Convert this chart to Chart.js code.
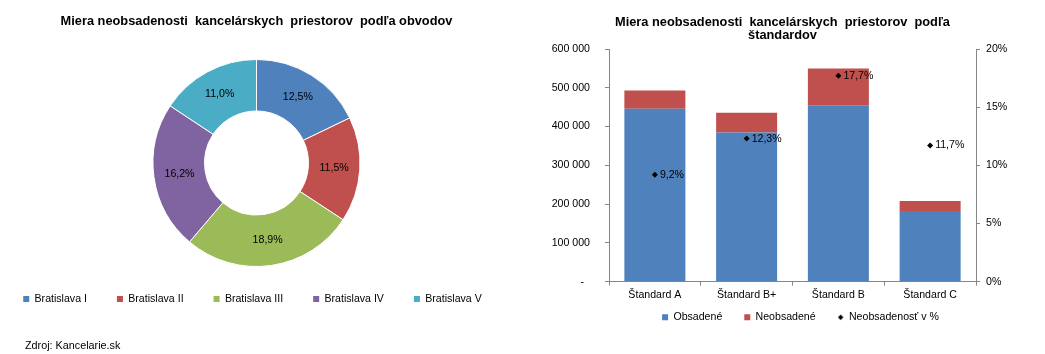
<!DOCTYPE html>
<html><head><meta charset="utf-8">
<script src="https://cdn.jsdelivr.net/npm/chart.js@4/dist/chart.umd.min.js"></script>
<style>
html,body{margin:0;padding:0;background:#fff;width:1045px;height:354px;overflow:hidden;}
#pie{position:absolute;left:-7px;top:0;}
#bar{position:absolute;left:520px;top:0;}
#src{position:absolute;left:25px;top:338px;font:10.8px 'Liberation Sans',Arial,sans-serif;line-height:14px;color:#000;white-space:nowrap;}
</style></head><body>
<canvas id="pie" width="527" height="354"></canvas>
<canvas id="bar" width="525" height="354"></canvas>
<div id="src">Zdroj: Kancelarie.sk</div>
<script>
// ---- data ----
const pieLabels = ['Bratislava I', 'Bratislava II', 'Bratislava III', 'Bratislava IV', 'Bratislava V'];
const pieValues = [12.5, 11.5, 18.9, 16.2, 11.0];
const pieColors = ['#4F81BD', '#C0504D', '#9BBB59', '#8064A2', '#4BACC6'];

const barCategories = ['Štandard A', 'Štandard B+', 'Štandard B', 'Štandard C'];
const occupied = [446000, 384500, 455000, 182500];
const vacant = [47000, 51000, 95000, 25800];
const vacancyRate = [9.2, 12.3, 17.7, 11.7];
const seriesNames = ['Obsadené', 'Neobsadené', 'Neobsadenosť v %'];

const leftTickLabels = ['-  ', '100 000', '200 000', '300 000', '400 000', '500 000', '600 000'];
const rightTickLabels = ['0%', '5%', '10%', '15%', '20%'];

const pieTitle = 'Miera neobsadenosti  kancelárskych  priestorov  podľa obvodov';
const barTitle = ['Miera neobsadenosti  kancelárskych  priestorov  podľa', 'štandardov'];

// ---- setup ----
const FONT = "'Liberation Sans', Arial, sans-serif";
Chart.defaults.font.family = FONT;
Chart.defaults.color = '#000';
Chart.defaults.animation = false;
const AXIS = '#868686';
const fmtPct = v => v.toFixed(1).replace('.', ',') + '%';

const pieLabelPlugin = {
  id: 'pieLabels',
  afterDatasetsDraw(chart) {
    const ctx = chart.ctx;
    const meta = chart.getDatasetMeta(0);
    ctx.save();
    ctx.font = '10.6px ' + FONT;
    ctx.fillStyle = '#000';
    ctx.textAlign = 'center';
    ctx.textBaseline = 'middle';
    meta.data.forEach((arc, i) => {
      const p = arc.getProps(['x', 'y', 'startAngle', 'endAngle', 'innerRadius', 'outerRadius'], true);
      const a = (p.startAngle + p.endAngle) / 2;
      const r = (p.innerRadius + p.outerRadius) / 2;
      ctx.fillText(fmtPct(chart.data.datasets[0].data[i]), p.x + Math.cos(a) * r, p.y + Math.sin(a) * r);
    });
    ctx.restore();
  }
};

const pointLabelPlugin = {
  id: 'ptLabels',
  afterDatasetsDraw(chart) {
    const ctx = chart.ctx;
    const meta = chart.getDatasetMeta(2);
    ctx.save();
    ctx.font = '10.6px ' + FONT;
    ctx.fillStyle = '#000';
    ctx.textAlign = 'left';
    ctx.textBaseline = 'middle';
    meta.data.forEach((pt, i) => {
      ctx.fillText(fmtPct(chart.data.datasets[2].data[i]), pt.x + 5, pt.y);
    });
    ctx.restore();
  }
};

const layoutTweak = (dx, xAxisExtra) => ({
  id: 'layoutTweak',
  afterLayout(chart) {
    chart.legend.left += dx; chart.legend.right += dx;
    if (xAxisExtra && chart.scales.x) {
      chart.scales.x.bottom = chart.scales.x.top + xAxisExtra;
      chart.scales.x.height = xAxisExtra;
    }
  }
});

// ---- doughnut ----
new Chart(document.getElementById('pie'), {
  type: 'doughnut',
  data: {
    labels: pieLabels,
    datasets: [{ data: pieValues, backgroundColor: pieColors, borderColor: '#fff', borderWidth: 1, hoverOffset: 0, clip: false }]
  },
  options: {
    responsive: false,
    events: [],
    radius: 103.5,
    cutout: '50.25%',
    layout: { padding: { top: 0, left: 0, right: 0, bottom: 39.7 } },
    plugins: {
      title: { display: true, text: pieTitle, color: '#000', font: { size: 12.8, weight: 'bold', lineHeight: '13px' }, padding: { top: 14.5, bottom: 34.8 } },
      legend: {
        position: 'bottom',
        labels: {
          font: { size: 10.6 }, color: '#000', padding: 30, boxWidth: 6, boxHeight: 6,
          generateLabels: () => pieLabels.map((t, i) => ({ text: t, fillStyle: pieColors[i], strokeStyle: pieColors[i], lineWidth: 0, hidden: false, index: i }))
        }
      },
      tooltip: { enabled: false }
    }
  },
  plugins: [pieLabelPlugin, layoutTweak(-4, 0)]
});

// ---- bar + points ----
const diamond = document.createElement('canvas');
diamond.width = 7; diamond.height = 7;
(function () {
  const d = diamond.getContext('2d');
  d.fillStyle = '#000';
  d.beginPath(); d.moveTo(3.5, 0.8); d.lineTo(6.2, 3.5); d.lineTo(3.5, 6.2); d.lineTo(0.8, 3.5); d.closePath(); d.fill();
})();

const axisGrid = { drawOnChartArea: false, drawTicks: true, tickLength: 4, color: AXIS };
const axisBorder = { display: true, color: AXIS, width: 1 };

new Chart(document.getElementById('bar'), {
  type: 'bar',
  data: {
    labels: barCategories,
    datasets: [
      { label: seriesNames[0], data: occupied, backgroundColor: '#4F81BD', borderWidth: 0, yAxisID: 'y', order: 1, barPercentage: 0.665, categoryPercentage: 1 },
      { label: seriesNames[1], data: vacant, backgroundColor: '#C0504D', borderWidth: 0, yAxisID: 'y', order: 1, barPercentage: 0.665, categoryPercentage: 1 },
      { type: 'line', label: seriesNames[2], data: vacancyRate, yAxisID: 'y1', order: 0, showLine: false,
        pointStyle: 'rectRot', pointRadius: 3, pointBorderWidth: 0, pointBackgroundColor: '#000', borderColor: '#000', backgroundColor: '#000' }
    ]
  },
  options: {
    responsive: false,
    events: [],
    layout: { padding: { top: 0, left: 0, right: 0, bottom: 21.4 } },
    scales: {
      x: {
        stacked: true, grid: axisGrid, border: axisBorder,
        ticks: { padding: 3, font: { size: 10.6 }, color: '#000', maxRotation: 0, autoSkip: false },
        afterFit: s => { s.height = 8.3; }
      },
      y: {
        position: 'left', stacked: true, min: 0, max: 600000, grid: axisGrid, border: axisBorder,
        ticks: { stepSize: 100000, padding: 15, font: { size: 10.6 }, color: '#000', callback: (v, i) => leftTickLabels[i] },
        afterFit: s => { s.width = 89; }
      },
      y1: {
        position: 'right', min: 0, max: 20, grid: axisGrid, border: axisBorder,
        ticks: { stepSize: 5, padding: 6, font: { size: 10.6 }, color: '#000', callback: (v, i) => rightTickLabels[i] },
        afterFit: s => { s.width = 69; }
      }
    },
    plugins: {
      title: { display: true, text: barTitle, color: '#000', font: { size: 12.8, weight: 'bold', lineHeight: '13px' }, padding: { top: 15.5, bottom: 7.5 } },
      legend: {
        position: 'bottom',
        labels: {
          font: { size: 10.6 }, color: '#000', padding: 22, usePointStyle: true, boxWidth: 6, boxHeight: 6,
          sort: (a, b) => a.datasetIndex - b.datasetIndex,
          generateLabels: chart => Chart.defaults.plugins.legend.labels.generateLabels(chart).map(it => {
            it.pointStyle = it.datasetIndex === 2 ? diamond : 'rect';
            it.rotation = 0;
            it.lineWidth = 0;
            return it;
          })
        }
      },
      tooltip: { enabled: false }
    }
  },
  plugins: [pointLabelPlugin, layoutTweak(18, 30)]
});
</script>
</body></html>
